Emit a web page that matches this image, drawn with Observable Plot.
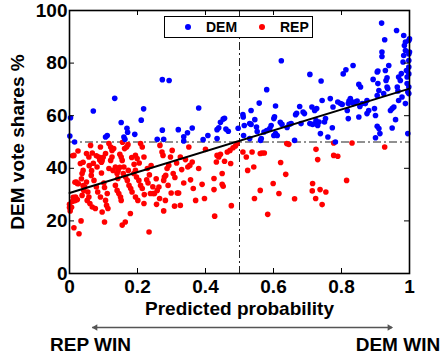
<!DOCTYPE html>
<html>
<head>
<meta charset="utf-8">
<script src="https://cdn.jsdelivr.net/npm/d3@7"></script>
<script src="https://cdn.jsdelivr.net/npm/@observablehq/plot@0.6"></script>
<style>
  body { margin: 0; background: #fff; }
  #chart { position: relative; width: 443px; height: 358px; font-family: "Liberation Sans", Arial, sans-serif; font-weight: bold; }
  #legend { position: absolute; left: 164px; top: 16px; width: 147px; height: 20px; border: 1.5px solid #000; background: #fff; font-size: 14px; }
  #legend .sw { position: absolute; top: 7px; width: 6px; height: 6px; border-radius: 50%; }
  #legend .lb { position: absolute; top: 2px; line-height: 16px; }
</style>
</head>
<body>
<div id="chart"></div>
<script>
// Districts the Democrat won: [predicted probability, DEM vote share %]
const dem = [
  [0.003,59.2],[0.001,52.3],[0.015,50.0],[0.070,61.8],[0.133,66.6],[0.106,51.9],[0.111,52.5],[0.152,57.4],
  [0.169,55.2],[0.171,53.7],[0.163,51.0],[0.160,51.9],[0.192,52.9],[0.211,58.3],[0.218,62.6],[0.273,73.7],
  [0.293,73.4],[0.273,54.5],[0.258,51.0],[0.277,51.0],[0.320,54.7],[0.336,52.0],[0.336,50.4],[0.347,53.5],
  [0.361,55.3],[0.380,62.9],[0.393,50.9],[0.407,52.5],[0.434,51.3],[0.434,54.7],[0.439,55.4],[0.444,57.5],
  [0.452,58.7],[0.456,59.0],[0.460,54.9],[0.467,54.1],[0.496,55.2],[0.510,60.4],[0.511,59.5],[0.514,56.3],
  [0.512,52.5],[0.530,51.3],[0.534,62.0],[0.534,56.7],[0.550,55.7],[0.558,64.8],[0.562,50.6],[0.564,51.3],
  [0.580,69.9],[0.572,53.8],[0.580,54.4],[0.589,55.1],[0.593,56.3],[0.601,52.5],[0.606,53.2],[0.601,58.9],
  [0.603,59.6],[0.606,63.7],[0.611,52.5],[0.623,80.9],[0.625,56.7],[0.646,56.7],[0.652,57.0],[0.662,50.6],
  [0.665,60.4],[0.668,60.9],[0.677,63.5],[0.681,57.0],[0.687,61.4],[0.691,60.8],[0.707,75.7],[0.707,57.0],
  [0.715,56.7],[0.723,57.0],[0.713,63.3],[0.721,62.0],[0.727,62.7],[0.725,58.2],[0.734,57.6],[0.730,56.3],
  [0.738,53.2],[0.740,73.2],[0.743,65.8],[0.750,57.6],[0.753,58.9],[0.760,51.9],[0.767,66.5],[0.773,55.4],
  [0.775,63.3],[0.782,50.0],[0.789,65.2],[0.797,64.6],[0.802,64.3],[0.805,75.9],[0.813,77.5],[0.817,62.0],
  [0.820,64.6],[0.822,65.6],[0.820,58.9],[0.826,66.5],[0.828,65.6],[0.834,79.1],[0.835,64.6],[0.840,65.2],
  [0.846,65.6],[0.851,71.9],[0.856,70.9],[0.851,59.5],[0.854,63.5],[0.861,64.6],[0.870,64.6],[0.875,65.8],
  [0.875,60.8],[0.880,62.0],[0.893,73.8],[0.897,62.7],[0.900,60.1],[0.900,51.6],[0.905,76.6],[0.907,77.0],
  [0.905,56.0],[0.910,55.1],[0.913,53.2],[0.907,72.2],[0.910,69.6],[0.905,67.7],[0.918,95.2],[0.919,84.2],
  [0.919,82.5],[0.924,68.4],[0.927,88.9],[0.929,77.2],[0.931,73.4],[0.934,74.4],[0.934,70.9],[0.936,70.3],
  [0.939,79.1],[0.944,62.0],[0.949,62.7],[0.949,55.3],[0.954,63.3],[0.959,58.5],[0.962,92.4],[0.964,70.9],
  [0.966,69.4],[0.968,65.8],[0.968,74.7],[0.973,73.4],[0.978,67.1],[0.981,80.4],[0.983,82.9],[0.983,90.5],
  [0.985,86.7],[0.988,88.0],[0.988,84.8],[0.991,77.2],[0.993,74.7],[0.993,72.2],[0.995,69.0],[0.988,64.6],
  [0.995,53.2],[0.998,88.6],[0.998,83.5],[0.998,81.0],[0.998,78.5],[0.998,75.9],[0.998,70.9],[0.998,68.4],
  [1.000,84.2],[1.000,89.2],[0.530,57.0],[0.545,58.5],[0.620,57.5],[0.640,55.5],[0.552,54.0],[0.976,76.0]
];

// Districts the Republican won
const rep = [
  [0.000,26.3],[0.000,25.1],[0.002,23.8],[0.006,25.2],[0.009,27.5],[0.011,29.0],[0.016,27.7],[0.013,17.4],
  [0.028,15.1],[0.034,20.0],[0.013,44.9],[0.009,44.8],[0.025,46.6],[0.032,41.8],[0.040,42.3],[0.020,34.8],
  [0.023,34.2],[0.016,34.7],[0.026,34.1],[0.018,29.1],[0.023,28.1],[0.040,39.2],[0.037,38.0],[0.035,36.0],
  [0.045,32.9],[0.040,33.4],[0.050,34.8],[0.054,31.0],[0.057,29.1],[0.050,45.6],[0.057,44.3],[0.062,48.7],
  [0.067,45.8],[0.052,27.8],[0.060,26.6],[0.067,25.3],[0.076,24.7],[0.072,35.4],[0.058,41.0],[0.065,39.1],
  [0.070,41.9],[0.079,32.9],[0.083,31.0],[0.079,44.8],[0.086,44.3],[0.089,43.2],[0.091,48.1],[0.094,38.2],
  [0.096,43.0],[0.099,44.2],[0.094,42.3],[0.101,34.4],[0.103,32.7],[0.096,23.4],[0.103,19.6],[0.106,27.8],
  [0.109,25.9],[0.113,24.7],[0.111,30.4],[0.106,45.6],[0.116,49.4],[0.121,48.1],[0.125,46.8],[0.121,43.0],
  [0.125,44.3],[0.130,47.5],[0.128,39.2],[0.135,40.5],[0.140,38.0],[0.142,36.1],[0.135,33.5],[0.140,31.6],
  [0.145,30.4],[0.150,29.1],[0.152,27.8],[0.155,18.4],[0.164,19.6],[0.179,22.8],[0.148,45.3],[0.152,44.3],
  [0.155,43.0],[0.156,49.9],[0.160,40.5],[0.158,38.0],[0.143,39.1],[0.148,40.4],[0.165,36.7],[0.170,35.4],
  [0.162,47.5],[0.168,48.1],[0.172,49.0],[0.175,33.5],[0.180,32.3],[0.184,31.0],[0.189,38.0],[0.194,39.2],
  [0.197,36.7],[0.194,44.9],[0.199,43.7],[0.194,29.1],[0.201,27.8],[0.204,35.4],[0.209,33.5],[0.214,32.3],
  [0.219,26.6],[0.227,35.6],[0.231,34.4],[0.229,39.9],[0.234,15.8],[0.238,30.4],[0.246,30.4],[0.250,30.4],
  [0.256,26.3],[0.258,31.6],[0.263,32.9],[0.266,48.7],[0.272,46.2],[0.275,44.9],[0.277,35.4],[0.279,36.7],
  [0.283,37.3],[0.277,23.8],[0.282,27.8],[0.287,39.9],[0.292,41.1],[0.297,44.3],[0.302,46.8],[0.299,30.6],
  [0.305,38.0],[0.309,25.6],[0.317,30.6],[0.321,30.6],[0.326,25.9],[0.326,44.3],[0.336,34.4],[0.341,43.3],
  [0.351,48.1],[0.348,40.5],[0.354,41.1],[0.361,42.4],[0.356,35.6],[0.364,32.3],[0.371,27.8],[0.380,39.9],
  [0.390,33.9],[0.397,28.5],[0.400,47.2],[0.425,36.1],[0.425,31.9],[0.427,21.8],[0.432,42.4],[0.434,44.9],
  [0.439,44.3],[0.444,45.3],[0.449,38.0],[0.449,33.9],[0.452,33.2],[0.456,42.7],[0.464,46.2],[0.472,46.8],
  [0.474,41.8],[0.476,25.8],[0.481,47.8],[0.488,48.5],[0.493,49.4],[0.209,49.4],[0.214,48.1],[0.219,44.3],
  [0.183,44.1],[0.173,39.2],[0.116,39.9],[0.081,40.5],[0.064,37.3],[0.042,31.6],[0.037,29.7],[0.091,29.1],
  [0.190,41.5],[0.205,42.0],[0.240,41.0],[0.255,36.0],[0.235,37.5],[0.220,30.0],[0.245,33.0],[0.265,28.5],
  [0.310,36.5],[0.330,39.5],[0.290,33.5],[0.315,42.0],
  [0.510,46.2],[0.520,44.3],[0.524,39.2],[0.537,46.2],[0.542,40.5],[0.544,28.5],[0.561,31.6],[0.561,45.6],
  [0.566,45.8],[0.573,45.8],[0.583,22.5],[0.599,34.2],[0.616,30.4],[0.621,42.2],[0.636,37.7],[0.639,49.4],
  [0.645,49.1],[0.662,28.4],[0.715,34.2],[0.714,31.4],[0.725,47.2],[0.730,43.3],[0.724,28.5],[0.737,31.9],
  [0.743,26.2],[0.754,31.0],[0.777,49.6],[0.777,44.9],[0.789,44.6],[0.815,35.4],[0.831,49.6],[0.927,48.1]
];

// Fitted line of vote share on predicted probability
const fitLine = [{x: 0, y: 30.6}, {x: 1, y: 70.3}];

const xTicks = [0, 0.2, 0.4, 0.6, 0.8, 1];
const yTicks = [0, 20, 40, 60, 80, 100];
const threshold = {x: 0.5, y: 50};

// Direction arrow under the x axis
const arrowSpan = [0.068, 0.95];
const arrowHeads = [{x: 0.0765, angle: -90}, {x: 0.941, angle: 90}];
const winLabels = [{x: 0.062, label: "REP WIN"}, {x: 0.966, label: "DEM WIN"}];

const legendItems = [{name: "DEM", color: "#0000ff"}, {name: "REP", color: "#ff0000"}];

const font = "Liberation Sans, Arial, Helvetica, sans-serif";
const dash = "8,3,2,3";
const fs = 19;

const plot = Plot.plot({
  width: 443,
  height: 358,
  marginLeft: 69,
  marginRight: 34,
  marginTop: 10,
  marginBottom: 85,
  style: {fontFamily: font, fontWeight: "bold", fontSize: fs + "px", color: "#000", background: "#fff"},
  x: {domain: [0, 1]},
  y: {domain: [0, 100]},
  marks: [
    Plot.ruleX([threshold.x], {stroke: "#222", strokeWidth: 1, strokeDasharray: dash}),
    Plot.ruleY([threshold.y], {stroke: "#222", strokeWidth: 1, strokeDasharray: dash}),
    Plot.dot(rep, {x: d => d[0], y: d => d[1], r: 2.8, fill: "#ff0000", stroke: null}),
    Plot.dot(dem, {x: d => d[0], y: d => d[1], r: 2.8, fill: "#0000ff", stroke: null}),
    Plot.line(fitLine, {x: "x", y: "y", stroke: "#000", strokeWidth: 2}),
    // inward ticks on all four sides
    Plot.ruleX(xTicks, {insetTop: 258, stroke: "#000", strokeWidth: 1}),
    Plot.ruleX(xTicks, {insetBottom: 258, stroke: "#000", strokeWidth: 1}),
    Plot.ruleY(yTicks, {insetRight: 335, stroke: "#000", strokeWidth: 1}),
    Plot.ruleY(yTicks, {insetLeft: 335, stroke: "#000", strokeWidth: 1}),
    Plot.frame({stroke: "#000", strokeWidth: 1.6}),
    Plot.axisX(xTicks, {tickSize: 0, tickPadding: 6, label: null, tickFormat: d => `${d}`, fontSize: fs, fontWeight: "bold"}),
    Plot.axisY(yTicks, {tickSize: 0, tickPadding: 2, label: null, tickFormat: d => `${d}`, fontSize: fs, fontWeight: "bold"}),
    Plot.text([0], {frameAnchor: "bottom", lineAnchor: "middle", dy: 35, text: () => "Predicted probability", fontSize: fs, fontWeight: "bold"}),
    Plot.text([0], {frameAnchor: "left", dx: -52, rotate: -90, textAnchor: "middle", text: () => "DEM vote shares %", fontSize: fs, fontWeight: "bold"}),
    Plot.ruleY([0], {x1: arrowSpan[0], x2: arrowSpan[1], dy: 54, stroke: "#555", strokeWidth: 1.3}),
    Plot.dot(arrowHeads, {x: "x", frameAnchor: "bottom", dy: 54, symbol: "triangle2", rotate: "angle", r: 3, fill: "#555", stroke: null}),
    Plot.text(winLabels, {x: "x", frameAnchor: "bottom", lineAnchor: "middle", dy: 71, text: "label", fontSize: fs, fontWeight: "bold"})
  ]
});

const chart = document.getElementById("chart");
chart.appendChild(plot);

// Legend box inside the plot area
const legend = document.createElement("div");
legend.id = "legend";
const swatchLeft = [20, 94];
const labelLeft = [41, 115];
legendItems.forEach((item, i) => {
  const sw = document.createElement("span");
  sw.className = "sw";
  sw.style.left = swatchLeft[i] + "px";
  sw.style.background = item.color;
  const lb = document.createElement("span");
  lb.className = "lb";
  lb.style.left = labelLeft[i] + "px";
  lb.textContent = item.name;
  legend.appendChild(sw);
  legend.appendChild(lb);
});
chart.appendChild(legend);
</script>
</body>
</html>
